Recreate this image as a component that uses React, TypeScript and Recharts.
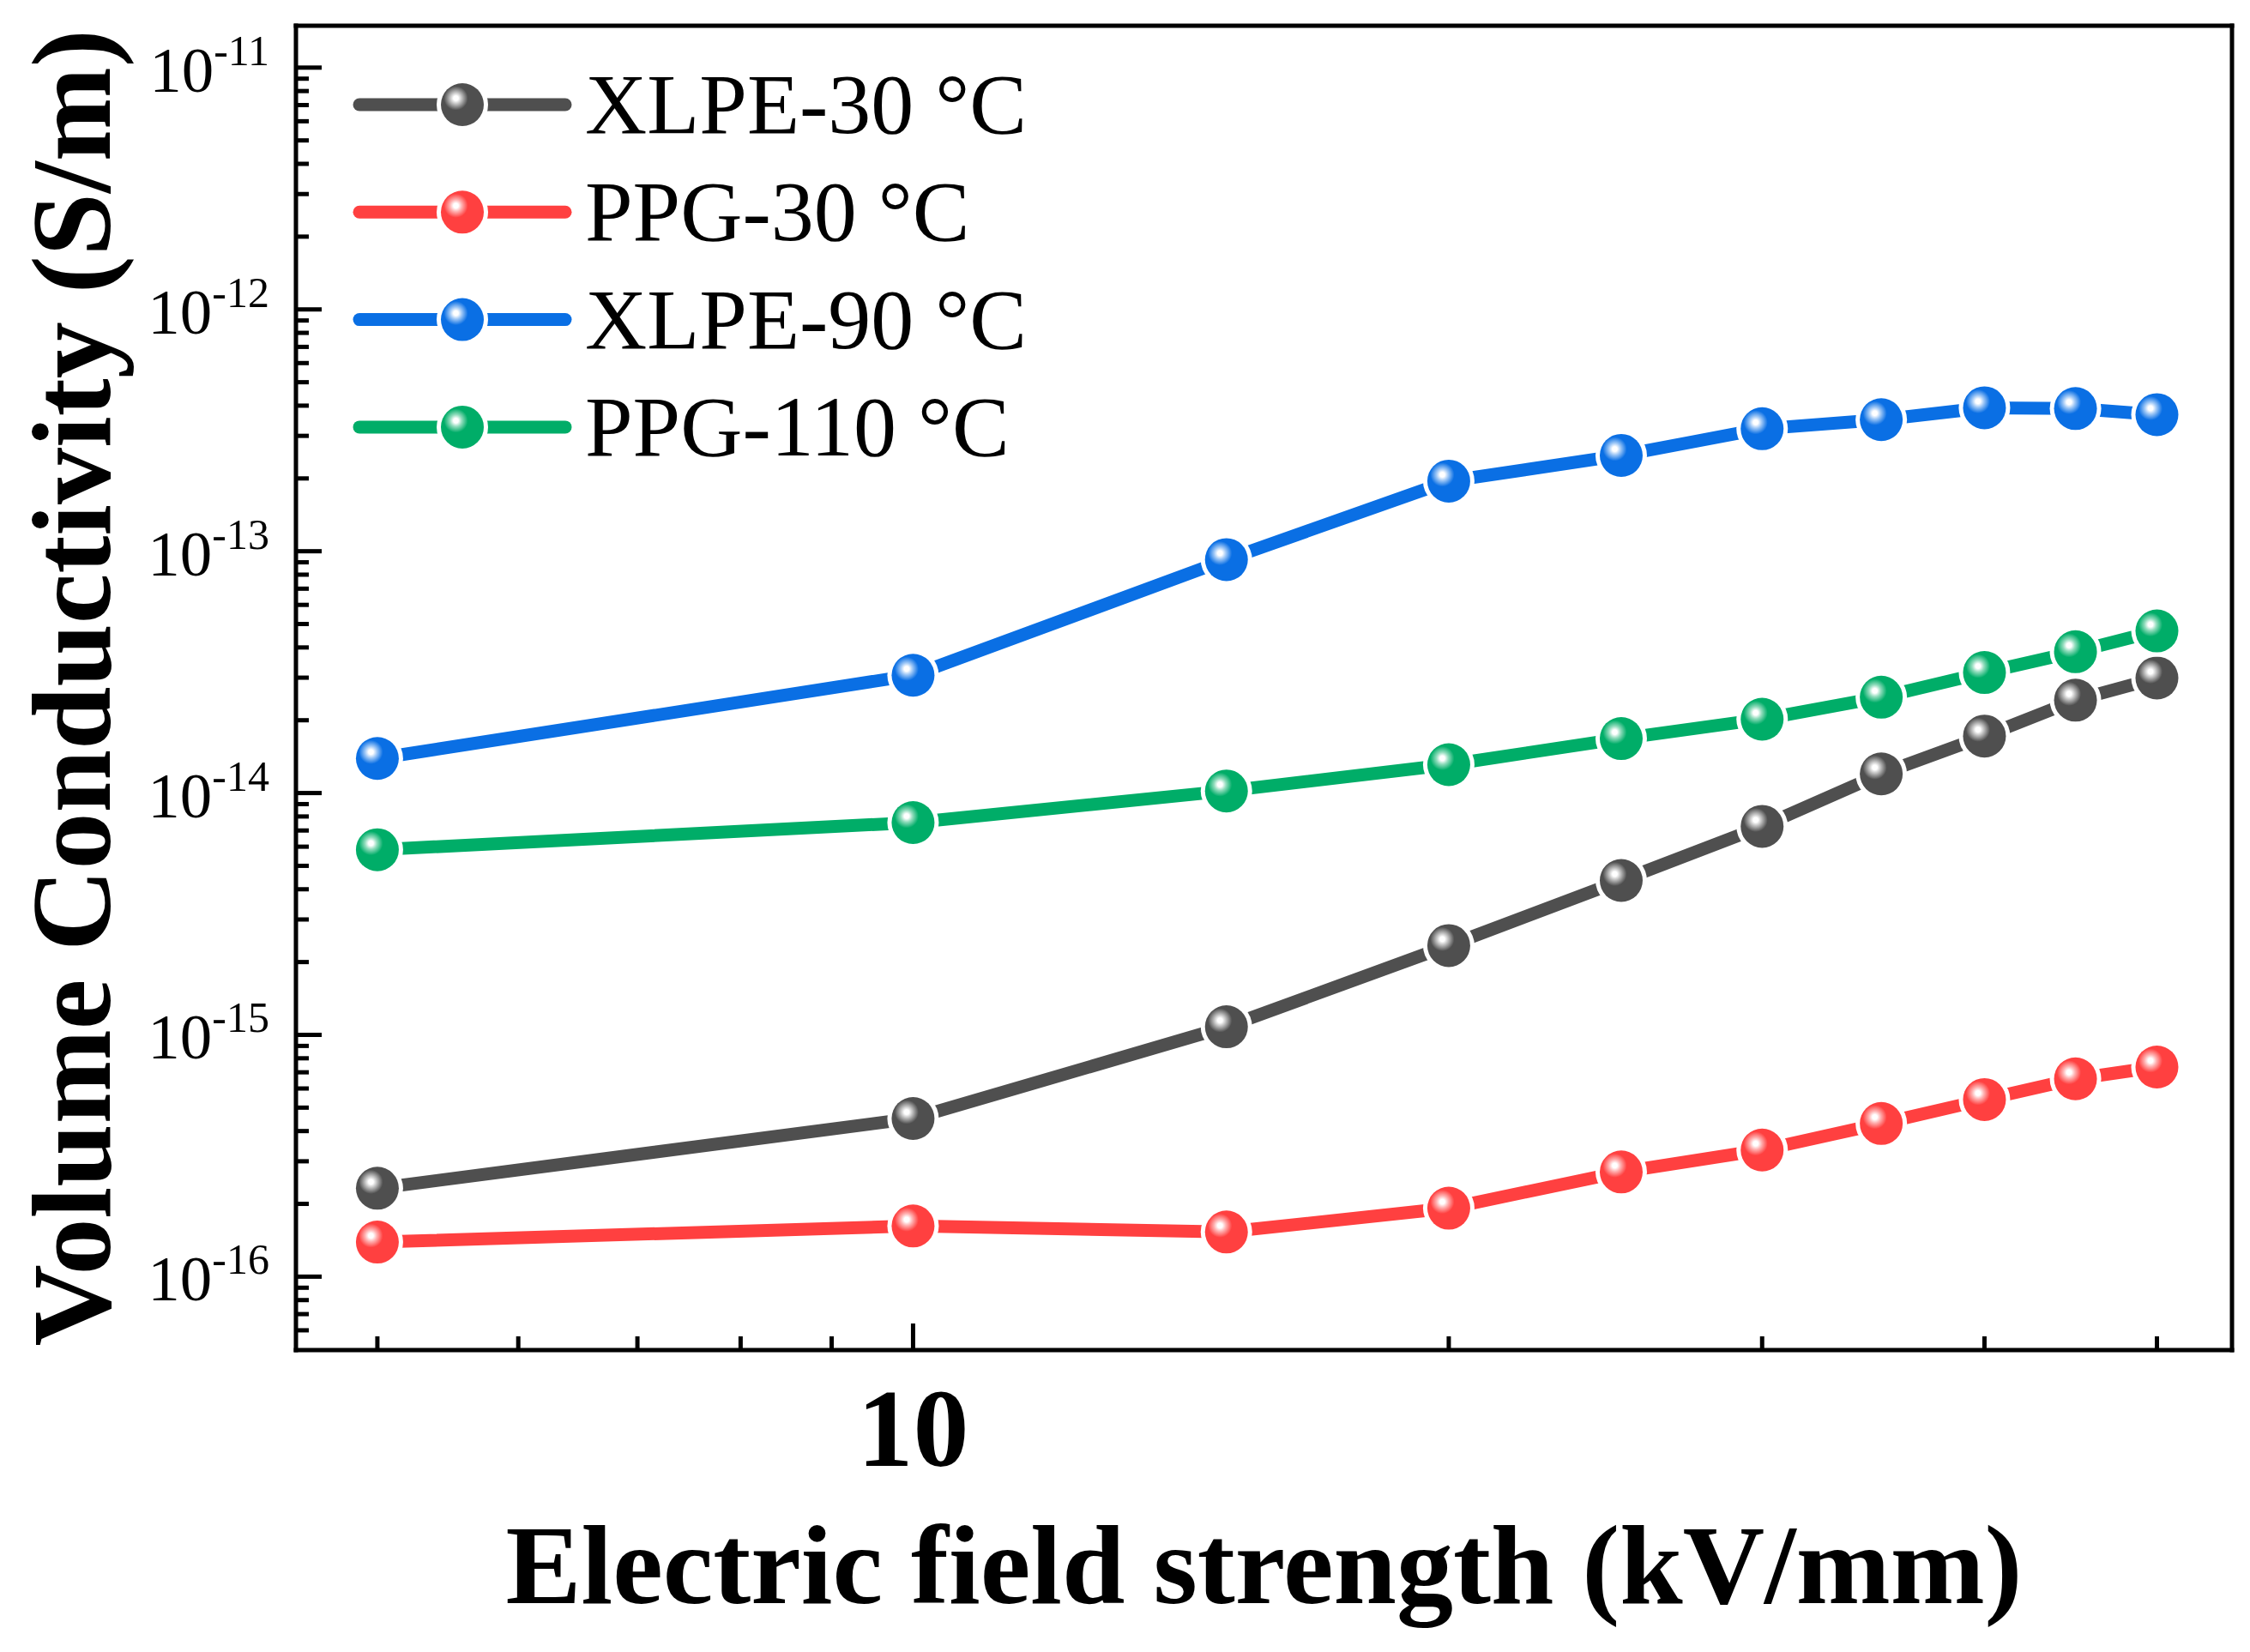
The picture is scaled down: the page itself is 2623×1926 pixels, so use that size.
import { LineChart, Line, XAxis, YAxis, Legend, Label } from 'recharts'

// ── Data ─────────────────────────────────────────────────────────────────────

const fieldStrength = [5, 10, 15, 20, 25, 30, 35, 40, 45, 50]
const xlpe30 = [2.32e-16, 4.51e-16, 1.08e-15, 2.34e-15, 4.35e-15, 7.28e-15, 1.2e-14, 1.72e-14, 2.42e-14, 2.99e-14]
const ppg30 = [1.39e-16, 1.62e-16, 1.53e-16, 1.92e-16, 2.71e-16, 3.34e-16, 4.3e-16, 5.4e-16, 6.58e-16, 7.36e-16]
const xlpe90 = [1.39e-14, 3.07e-14, 9.23e-14, 1.95e-13, 2.49e-13, 3.21e-13, 3.5e-13, 3.92e-13, 3.89e-13, 3.67e-13]
const ppg110 = [5.83e-15, 7.55e-15, 1.02e-14, 1.31e-14, 1.68e-14, 2.02e-14, 2.49e-14, 3.15e-14, 3.84e-14, 4.68e-14]

const seriesNames = ['XLPE-30 °C', 'PPG-30 °C', 'XLPE-90 °C', 'PPG-110 °C']
const seriesKeys = ['xlpe30', 'ppg30', 'xlpe90', 'ppg110']
const seriesColors = ['#4f4f4f', '#ff4040', '#0a6fe4', '#00ad68']
const seriesTints = ['#bdbdbd', '#ffb0b0', '#9cc6f6', '#90dcbc']

const xTicks = [5, 6, 7, 8, 9, 10, 20, 30, 40, 50]
const xLabelled = [10]
const yDecades = [-17, -16, -15, -14, -13, -12, -11]

const X_DOMAIN: [number, number] = [4.5, 55.1]
const Y_DOMAIN: [number, number] = [4.97e-17, 1.49e-11]

const data = fieldStrength.map((e, i) => ({
  e,
  xlpe30: xlpe30[i],
  ppg30: ppg30[i],
  xlpe90: xlpe90[i],
  ppg110: ppg110[i],
}))

// decade ticks plus 2..9 minor ticks inside the domain
const yTicks: number[] = []
for (const d of yDecades) {
  for (let m = 1; m <= 9; m++) {
    const v = m * Math.pow(10, d)
    if (v > 5.5e-17 && v < Y_DOMAIN[1]) yTicks.push(v)
  }
}

const FONT = "'Liberation Serif', 'Times New Roman', serif"

// ── Marker ───────────────────────────────────────────────────────────────────

function Ball({ cx, cy, idx, r = 24 }: { cx: number; cy: number; idx: number; r?: number }) {
  return (
    <g>
      <circle cx={cx} cy={cy} r={r + 5} fill="#fff" />
      <circle cx={cx} cy={cy} r={r} fill={`url(#ball-${idx})`} />
    </g>
  )
}

function BallDefs() {
  return (
    <defs>
      {seriesColors.map((c, i) => (
        <radialGradient key={i} id={`ball-${i}`} cx="0.35" cy="0.35" r="0.28" fx="0.35" fy="0.35">
          <stop offset="0" stopColor="#fff" />
          <stop offset="0.2" stopColor="#fff" />
          <stop offset="0.5" stopColor={seriesTints[i]} />
          <stop offset="1" stopColor={c} />
        </radialGradient>
      ))}
    </defs>
  )
}

// ── Ticks ────────────────────────────────────────────────────────────────────

function YTick(props: any) {
  const { x, y, payload } = props
  const v = payload.value as number
  const exp = Math.round(Math.log10(v))
  const major = Math.abs(v / Math.pow(10, exp) - 1) < 1e-6
  return (
    <g>
      <line x1={x} x2={x + (major ? 30 : 15)} y1={y} y2={y} stroke="#000" strokeWidth={5} />
      {major && (
        <text x={x - 31} y={y + 28} textAnchor="end" fontFamily={FONT} fontSize={75} fill="#000">
          10
          <tspan dy={-31} fontSize={50}>{`${exp}`}</tspan>
        </text>
      )}
    </g>
  )
}

function XTick(props: any) {
  const { x, y, payload } = props
  const v = payload.value as number
  const major = xLabelled.includes(v)
  return (
    <g>
      <line x1={x} x2={x} y1={y} y2={y - (major ? 31 : 16)} stroke="#000" strokeWidth={5} />
      {major && (
        <text x={x} y={y + 135} textAnchor="middle" fontFamily={FONT} fontWeight="bold" fontSize={130} fill="#000">
          {v}
        </text>
      )}
    </g>
  )
}

// ── Legend ───────────────────────────────────────────────────────────────────

function LegendBox() {
  return (
    <svg width={900} height={500} style={{ display: 'block', overflow: 'visible' }}>
      {seriesNames.map((name, i) => {
        const cy = 72 + i * 125.3
        return (
          <g key={name}>
            <line x1={19} x2={259} y1={cy} y2={cy} stroke={seriesColors[i]} strokeWidth={15} strokeLinecap="round" />
            <Ball cx={139} cy={cy} idx={i} r={25} />
            <text x={282} y={cy + 33} fontFamily={FONT} fontSize={100} fill="#000">
              {name}
            </text>
          </g>
        )
      })}
    </svg>
  )
}

// ── Chart ────────────────────────────────────────────────────────────────────

export default function App() {
  const axisLine = { stroke: '#000', strokeWidth: 5, strokeLinecap: 'square' as const }
  return (
    <div style={{ position: 'absolute', left: 0, top: 0, width: 2623, height: 1926, background: '#fff' }}>
      <LineChart width={2623} height={1926} data={data} margin={{ top: 29, left: 344, right: 20, bottom: 351 }}>
        <BallDefs />
        <XAxis
          dataKey="e"
          type="number"
          scale="log"
          domain={X_DOMAIN}
          allowDataOverflow
          ticks={xTicks}
          interval={0}
          height={1}
          tickSize={0}
          tickMargin={0}
          tickLine={false}
          axisLine={axisLine}
          tick={<XTick />}
        >
          <Label
            content={(p: any) => {
              const vb = p.viewBox
              return (
                <text x={vb.x + vb.width / 2} y={1869} textAnchor="middle" fontFamily={FONT} fontWeight="bold" fontSize={132} fill="#000">
                  Electric field strength (kV/mm)
                </text>
              )
            }}
          />
        </XAxis>
        <XAxis
          xAxisId="top"
          orientation="top"
          type="number"
          scale="log"
          domain={X_DOMAIN}
          allowDataOverflow
          height={1}
          tick={false}
          tickLine={false}
          axisLine={axisLine}
        />
        <YAxis
          type="number"
          scale="log"
          domain={Y_DOMAIN}
          allowDataOverflow
          ticks={yTicks}
          interval={0}
          width={1}
          tickSize={0}
          tickMargin={0}
          tickLine={false}
          axisLine={axisLine}
          tick={<YTick />}
        >
          <Label
            content={(p: any) => {
              const vb = p.viewBox
              const cy = vb.y + vb.height / 2
              return (
                <text x={128} y={cy} transform={`rotate(-90, 128, ${cy})`} textAnchor="middle" fontFamily={FONT} fontWeight="bold" fontSize={132} fill="#000">
                  Volume Conductivity (S/m)
                </text>
              )
            }}
          />
        </YAxis>
        <YAxis
          yAxisId="right"
          orientation="right"
          type="number"
          scale="log"
          domain={Y_DOMAIN}
          allowDataOverflow
          width={1}
          tick={false}
          tickLine={false}
          axisLine={axisLine}
        />
        <Legend
          layout="vertical"
          align="center"
          verticalAlign="middle"
          content={<LegendBox />}
          wrapperStyle={{ position: 'absolute', left: 400, top: 50, width: 900, height: 500 }}
        />
        {seriesKeys.map((k, i) => (
          <Line
            key={k}
            dataKey={k}
            name={seriesNames[i]}
            type="linear"
            stroke={seriesColors[i]}
            strokeWidth={15}
            strokeLinecap="round"
            isAnimationActive={false}
            dot={(p: any) => <Ball key={`${k}-${p.index}`} cx={p.cx} cy={p.cy} idx={i} r={25} />}
            activeDot={false}
          />
        ))}
      </LineChart>
    </div>
  )
}
